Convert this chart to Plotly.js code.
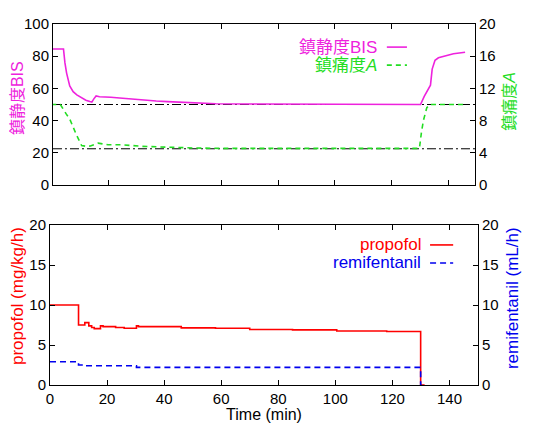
<!DOCTYPE html>
<html>
<head>
<meta charset="utf-8">
<script src="https://cdn.plot.ly/plotly-3.0.1.min.js"></script>
<style>html,body{margin:0;padding:0;background:#fff;}#chart{width:545px;height:423px;}</style>
</head>
<body>
<div id="chart"></div>
<script>
// ---- Data ----
// Top panel: sedation BIS (left axis) and analgesia A (right axis)
const bisTime = [0, 4.3, 4.8, 5.4, 6.5, 7.7, 9, 10.5, 12.2, 13.6, 14.3, 15.0, 15.8, 17, 19.4, 21, 24.1, 28.8, 33, 37, 41, 50, 58, 70, 85, 100, 115, 130.2, 131.5, 133, 133.7, 134.3, 135.3, 136.5, 138.3, 141.8, 145.9];
const bisValue = [84.5, 84.5, 76, 69.5, 61.5, 58, 56, 54.3, 52.7, 51.8, 51.5, 53.5, 55.3, 54.8, 54.8, 54.5, 54, 53.2, 52.7, 52.2, 51.8, 51.2, 50.5, 50.3, 50.2, 50.1, 50, 50, 55, 59.5, 62, 72, 77.5, 79, 80, 81.5, 82.5];
const aTime = [0, 3.2, 5.3, 6.5, 8.9, 10.7, 12.4, 13.8, 15.3, 16.5, 20, 25, 32, 40, 50, 60, 129.8, 130.5, 131.2, 132.4, 133.5, 145.9];
const aValue = [10, 10, 8.8, 8.2, 6.2, 4.9, 4.8, 4.85, 5.05, 5.2, 5.0, 5.0, 4.8, 4.7, 4.6, 4.55, 4.55, 6.5, 8.0, 9.6, 10, 10];
const refLevelsBIS = [50, 22.5];

// Bottom panel: infusion rates (step profiles)
const propTime = [0, 10, 12.2, 13.6, 14.6, 15.5, 17.7, 18.6, 23, 26, 30.3, 31, 46, 58, 70, 85, 100.5, 118, 129.9, 131.3];
const propValue = [10, 7.5, 7.8, 7.4, 7.2, 7.05, 7.4, 7.3, 7.2, 7.1, 7.4, 7.3, 7.15, 7.1, 6.95, 6.9, 6.75, 6.7, 0, 0];
const remiTime = [0, 10, 12, 30.3, 129.9, 130.3];
const remiValue = [2.9, 2.5, 2.4, 2.2, 0, 0];

const xTicks = [0, 20, 40, 60, 80, 100, 120, 140];

// ---- Styling ----
const MAG = '#ee22dd', GRN = '#22dd22', RED = '#ff0000', BLU = '#0000ee';
const FONT = 'Liberation Sans, Arial, Noto Sans CJK JP, sans-serif';
const TICKF = {family: FONT, size: 15, color: '#000'};

const traces = [
  {x: bisTime, y: bisValue, xaxis: 'x2', yaxis: 'y3', mode: 'lines', line: {color: MAG, width: 1.6}, showlegend: false, hoverinfo: 'skip'},
  {x: aTime, y: aValue, xaxis: 'x2', yaxis: 'y4', mode: 'lines', line: {color: GRN, width: 1.6, dash: '5px,4px'}, showlegend: false, hoverinfo: 'skip'},
  {x: propTime, y: propValue, xaxis: 'x', yaxis: 'y', mode: 'lines', line: {color: RED, width: 1.6, shape: 'hv'}, showlegend: false, hoverinfo: 'skip'},
  {x: remiTime, y: remiValue, xaxis: 'x', yaxis: 'y2', mode: 'lines', line: {color: BLU, width: 1.6, shape: 'hv', dash: '6px,4px'}, showlegend: false, hoverinfo: 'skip'}
];

const shapes = refLevelsBIS.map(v => ({
  type: 'line', xref: 'x2 domain', yref: 'y3', x0: 0, x1: 1, y0: v, y1: v,
  line: {color: '#000', width: 1, dash: '9px,3px,2px,3px'}, layer: 'below'
}));

// legend samples (paper coords)
function sample(x0, x1, y, color, dash) {
  return {type: 'line', xref: 'paper', yref: 'paper', x0: x0, x1: x1, y0: y, y1: y,
          line: {color: color, width: 1.6, dash: dash || 'solid'}};
}
shapes.push(sample(0.787, 0.834, 0.936, MAG));
shapes.push(sample(0.787, 0.834, 0.886, GRN, '5px,4px'));
shapes.push(sample(0.888, 0.942, 0.388, RED));
shapes.push(sample(0.888, 0.942, 0.338, BLU, '6px,4px'));

function legText(x, y, text, color) {
  return {xref: 'paper', yref: 'paper', x: x, y: y, xanchor: 'right', yanchor: 'middle',
          text: text, showarrow: false, font: {family: FONT, size: 17, color: color}};
}
function yTitle(x, y, text, color, size) {
  return {xref: 'paper', yref: 'paper', x: x, y: y, xanchor: 'center', yanchor: 'middle', textangle: -90,
          text: text, showarrow: false, font: {family: FONT, size: size, color: color}};
}
const annotations = [
  legText(0.768, 0.936, '鎮静度BIS', MAG),
  legText(0.768, 0.886, '鎮痛度<i>A</i>', GRN),
  legText(0.872, 0.388, 'propofol', RED),
  legText(0.872, 0.338, 'remifentanil', BLU),
  yTitle(-0.077, 0.795, '鎮静度BIS', MAG, 16),
  yTitle(1.075, 0.785, '鎮痛度<i>A</i>', GRN, 16),
  yTitle(-0.077, 0.2465, 'propofol (mg/kg/h)', RED, 17),
  yTitle(1.082, 0.241, 'remifentanil (mL/h)', BLU, 17)
];

const common = {showgrid: false, zeroline: false, showline: true, linecolor: '#000', linewidth: 1,
                ticks: 'inside', ticklen: 5, tickcolor: '#000', tickfont: TICKF};

const layout = {
  width: 545, height: 423,
  margin: {l: 50, r: 67, t: 24, b: 38, pad: 0},
  paper_bgcolor: '#fff', plot_bgcolor: '#fff',
  font: {family: FONT},
  xaxis: Object.assign({}, common, {domain: [0, 1], anchor: 'y', range: [0, 150], tickvals: xTicks, mirror: 'ticks',
    title: {text: 'Time (min)', font: {family: FONT, size: 16, color: '#000'}, standoff: 0}}),
  yaxis: Object.assign({}, common, {domain: [0, 0.443], anchor: 'x', range: [0, 20], dtick: 5}),
  yaxis2: Object.assign({}, common, {overlaying: 'y', side: 'right', anchor: 'x', range: [0, 20], dtick: 5}),
  xaxis2: Object.assign({}, common, {domain: [0.007, 0.993], anchor: 'y3', range: [0.6, 149.4], tickvals: xTicks,
    showticklabels: false, mirror: 'ticks'}),
  yaxis3: Object.assign({}, common, {domain: [0.554, 1], anchor: 'x2', range: [0, 100], dtick: 20}),
  yaxis4: Object.assign({}, common, {overlaying: 'y3', side: 'right', anchor: 'x2', range: [0, 20], dtick: 4}),
  shapes: shapes,
  annotations: annotations
};

Plotly.newPlot('chart', traces, layout, {staticPlot: true, displayModeBar: false});
</script>
</body>
</html>
